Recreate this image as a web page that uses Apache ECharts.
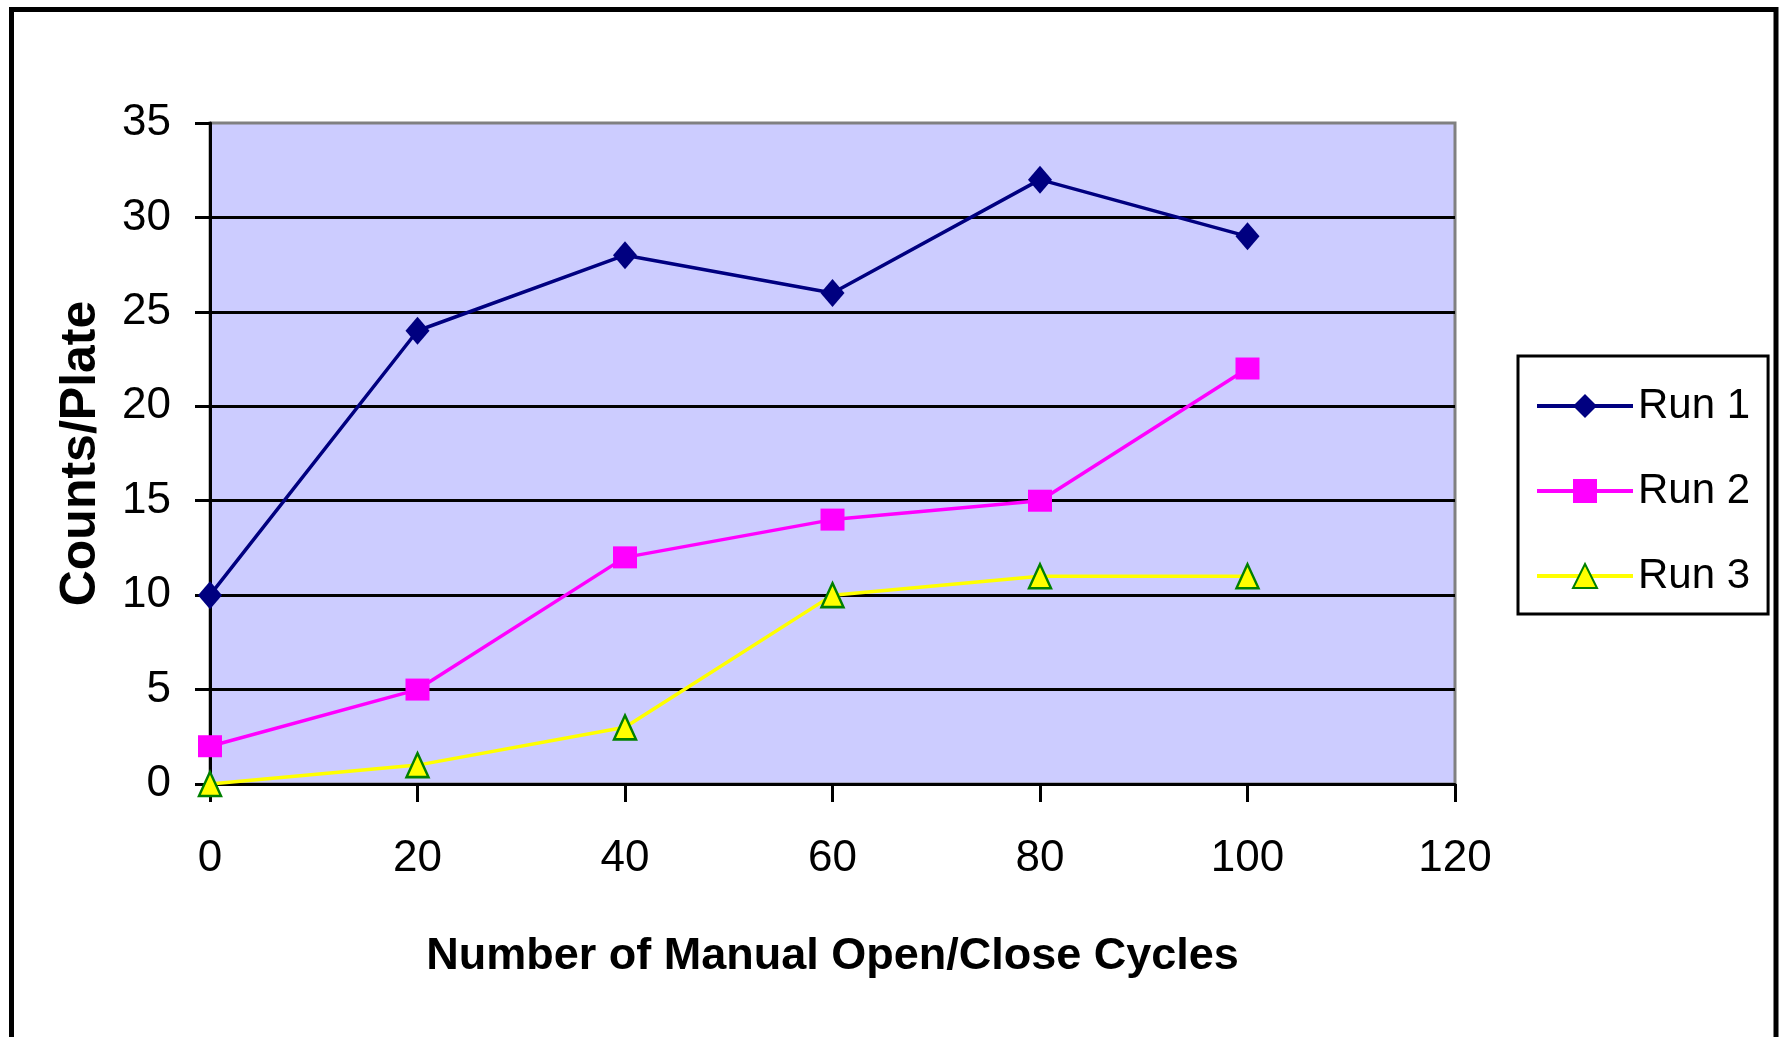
<!DOCTYPE html>
<html>
<head>
<meta charset="utf-8">
<script src="https://cdn.jsdelivr.net/npm/echarts@6/dist/echarts.min.js"></script>
<style>
  html, body { margin: 0; padding: 0; background: #fff; }
  #chart { width: 1779px; height: 1037px; }
</style>
</head>
<body>
<div id="chart"></div>
<script>
  // cycles on the x axis
  const cycles = [0, 20, 40, 60, 80, 100]
  const run1 = [10, 24, 28, 26, 32, 29]
  const run2 = [2, 5, 12, 14, 15, 22]
  const run3 = [0, 1, 3, 10, 11, 11]
  const seriesNames = ['Run 1', 'Run 2', 'Run 3']

  const font = "'Liberation Sans', Arial, sans-serif"
  const pairs = (ys) => cycles.map((x, i) => [x, ys[i]])

  const chart = echarts.init(document.getElementById('chart'))

  chart.setOption({
    animation: false,
    backgroundColor: '#fff',
    graphic: [{
      type: 'rect',
      shape: { x: 11.5, y: 9.5, width: 1764.5, height: 1100 },
      style: { fill: null, stroke: '#000', lineWidth: 5 },
      silent: true
    }],
    grid: {
      left: 210,
      top: 123,
      right: 324,
      bottom: 253,
      show: true,
      backgroundColor: '#CCCCFF',
      borderColor: '#808080',
      borderWidth: 3
    },
    legend: {
      orient: 'vertical',
      left: 1518,
      top: 356,
      padding: [25, 18, 13, 17],
      itemGap: 35,
      itemWidth: 96,
      itemHeight: 30,
      borderColor: '#000',
      borderWidth: 3,
      backgroundColor: '#fff',
      data: seriesNames,
      lineStyle: { width: 4 },
      textStyle: { fontFamily: font, fontSize: 42, lineHeight: 50, color: '#000' }
    },
    xAxis: {
      type: 'value',
      min: 0,
      max: 120,
      interval: 20,
      name: 'Number of Manual Open/Close Cycles',
      nameLocation: 'middle',
      nameGap: 148,
      nameTextStyle: { fontFamily: font, fontWeight: 'bold', fontSize: 45, lineHeight: 50, color: '#000' },
      axisLine: { show: true, onZero: false, lineStyle: { color: '#000', width: 3 } },
      axisTick: { show: true, inside: false, length: 18, lineStyle: { color: '#000', width: 3 } },
      axisLabel: { margin: 50, fontFamily: font, fontSize: 44, lineHeight: 50, color: '#000' },
      splitLine: { show: false }
    },
    yAxis: {
      type: 'value',
      min: 0,
      max: 35,
      interval: 5,
      name: 'Counts/Plate',
      nameLocation: 'middle',
      nameGap: 104,
      nameTextStyle: { fontFamily: font, fontWeight: 'bold', fontSize: 50, color: '#000' },
      axisLine: { show: true, lineStyle: { color: '#000', width: 3 } },
      axisTick: { show: true, inside: false, length: 15, lineStyle: { color: '#000', width: 3 } },
      axisLabel: { margin: 39, fontFamily: font, fontSize: 44, color: '#000' },
      splitLine: { show: true, showMinLine: false, showMaxLine: false, lineStyle: { color: '#000', width: 3 } }
    },
    series: [{
      name: seriesNames[0],
      type: 'line',
      data: pairs(run1),
      symbol: 'diamond',
      symbolSize: [24, 28],
      lineStyle: { color: '#000080', width: 3.5 },
      itemStyle: { color: '#000080' }
    }, {
      name: seriesNames[1],
      type: 'line',
      data: pairs(run2),
      symbol: 'rect',
      symbolSize: [24, 22],
      lineStyle: { color: '#FF00FF', width: 3.5 },
      itemStyle: { color: '#FF00FF' }
    }, {
      name: seriesNames[2],
      type: 'line',
      data: pairs(run3),
      symbol: 'triangle',
      symbolSize: [22, 24],
      lineStyle: { color: '#FFFF00', width: 3.5 },
      itemStyle: { color: '#FFFF00', borderColor: '#008000', borderWidth: 2.5 }
    }]
  })
</script>
</body>
</html>
